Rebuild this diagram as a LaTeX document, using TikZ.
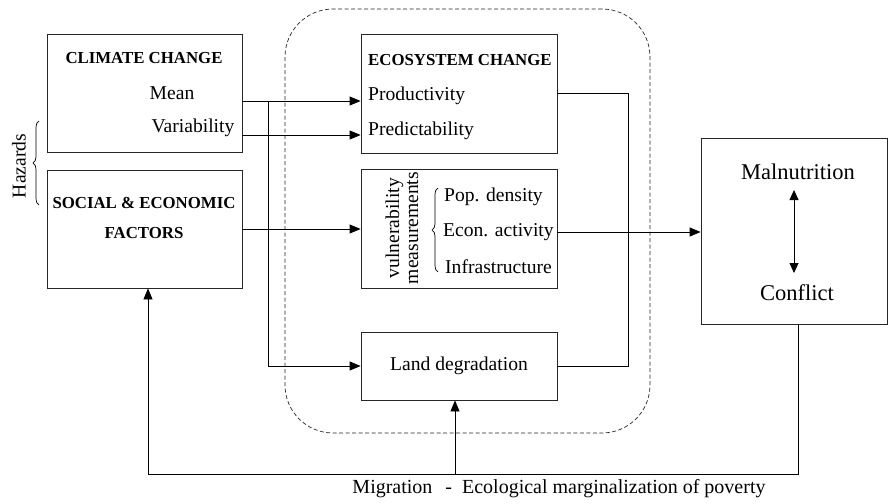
\documentclass[tikz,border=0pt]{standalone}
\usepackage{fontspec}
\setmainfont{Liberation Serif}
\usetikzlibrary{arrows.meta,decorations.pathreplacing}
\begin{document}
\begin{tikzpicture}[x=1pt,y=-1pt,
  box/.style={draw=black!85,line width=0.8pt,inner sep=0pt},
  txt/.style={inner sep=0pt,font=\fontsize{19.6}{22}\selectfont},
  btxt/.style={inner sep=0pt,font=\fontsize{16.8}{19}\selectfont\bfseries},
  bigtxt/.style={inner sep=0pt,font=\fontsize{22.5}{26}\selectfont},
  conn/.style={line width=0.8pt,draw=black},
  arr/.style={conn,-{Triangle[length=11pt,width=9pt]}},
  darr/.style={conn,{Triangle[length=10pt,width=9pt]}-{Triangle[length=10pt,width=9pt]}},
  bracestyle/.style={line width=0.7pt,decorate,decoration={brace,amplitude=6pt}},
  grpbox/.style={draw=black!85,line width=0.7pt,dash pattern=on 4pt off 2.5pt,rounded corners=48pt,inner sep=0pt}
]
\useasboundingbox (0,0) rectangle (888,503);

% dashed group
\node[grpbox,minimum width=365pt,minimum height=424pt] (grp) at (467.5,221) {};

% boxes
\node[box,minimum width=195pt,minimum height=118pt] (clim) at (144.5,93) {};
\node[box,minimum width=195pt,minimum height=118pt] (soc) at (144.5,229) {};
\node[box,minimum width=196pt,minimum height=119pt] (eco) at (459,93.5) {};
\node[box,minimum width=196pt,minimum height=119pt] (vuln) at (459,228.5) {};
\node[box,txt,minimum width=196pt,minimum height=68pt] (ld) at (459,366) {Land degradation};
\node[box,minimum width=186pt,minimum height=186pt] (maln) at (794,231) {};

% texts
\node[btxt] (climt) at (144,58) {CLIMATE CHANGE};
\node[txt] (mean) at (172,93) {Mean};
\node[txt] (var) at (193,128) {Variability};
\node[btxt] (soct) at (144,203) {SOCIAL \& ECONOMIC};
\node[btxt] (fact) at (144,233) {FACTORS};
\node[btxt,anchor=west] (ecot) at (368,60) {ECOSYSTEM CHANGE};
\node[txt,anchor=west] (prod) at (368,96) {Productivity};
\node[txt,anchor=west] (pred) at (368,131) {Predictability};
\node[txt,rotate=90,align=center,font=\fontsize{19.6}{19}\selectfont] (vulnt) at (402,228) {vulnerability\\measurements};
\node[txt,anchor=west] (pop) at (444,197) {Pop. density};
\node[txt,anchor=west] (econ) at (443,232) {Econ. activity};
\node[txt,anchor=west] (infra) at (445,267) {Infrastructure};
\node[bigtxt] (malt) at (798,172) {Malnutrition};
\node[bigtxt] (conft) at (797,293) {Conflict};
\node[txt,rotate=90] (haz) at (19,166) {Hazards};
\node[txt,font=\fontsize{20}{22}\selectfont] (migt) at (559,489) {Migration\hspace{13pt}-\hspace{10pt}Ecological marginalization of poverty};

% braces
\coordinate (hb1) at (39,205);
\coordinate (hb2) at (39,121);
\draw[bracestyle] (hb1) -- (hb2);
\coordinate (vb1) at (438,272);
\coordinate (vb2) at (438,188);
\draw[bracestyle] (vb1) -- (vb2);

% connectors
\coordinate (jm) at (268,101);
\coordinate (jv) at (268,135);
\coordinate (js) at (0,229);
\draw[arr] (clim.east |- jm) -- (eco.west |- jm);
\draw[arr] (clim.east |- jv) -- (eco.west |- jv);
\draw[arr] (jm) -- (jm |- ld) -- (ld.west);
\draw[arr] (soc.east |- js) -- (vuln.west |- js);

\coordinate (er) at (628,93);
\draw[conn] (eco.east |- er) -- (er) -- (er |- ld) -- (ld.east);

\coordinate (ya) at (0,232);
\draw[arr] (vuln.east |- ya) -- (maln.west |- ya);

\coordinate (da) at (794,190);
\coordinate (db) at (794,273);
\draw[darr] (da) -- (db);

\coordinate (bb) at (798,474);
\coordinate (bl) at (148,474);
\coordinate (bm) at (455,474);
\draw[arr] (maln.south -| bb) -- (bb) -- (bl) -- (bl |- soc.south);
\draw[arr] (bm) -- (bm |- ld.south);
\end{tikzpicture}
\end{document}
